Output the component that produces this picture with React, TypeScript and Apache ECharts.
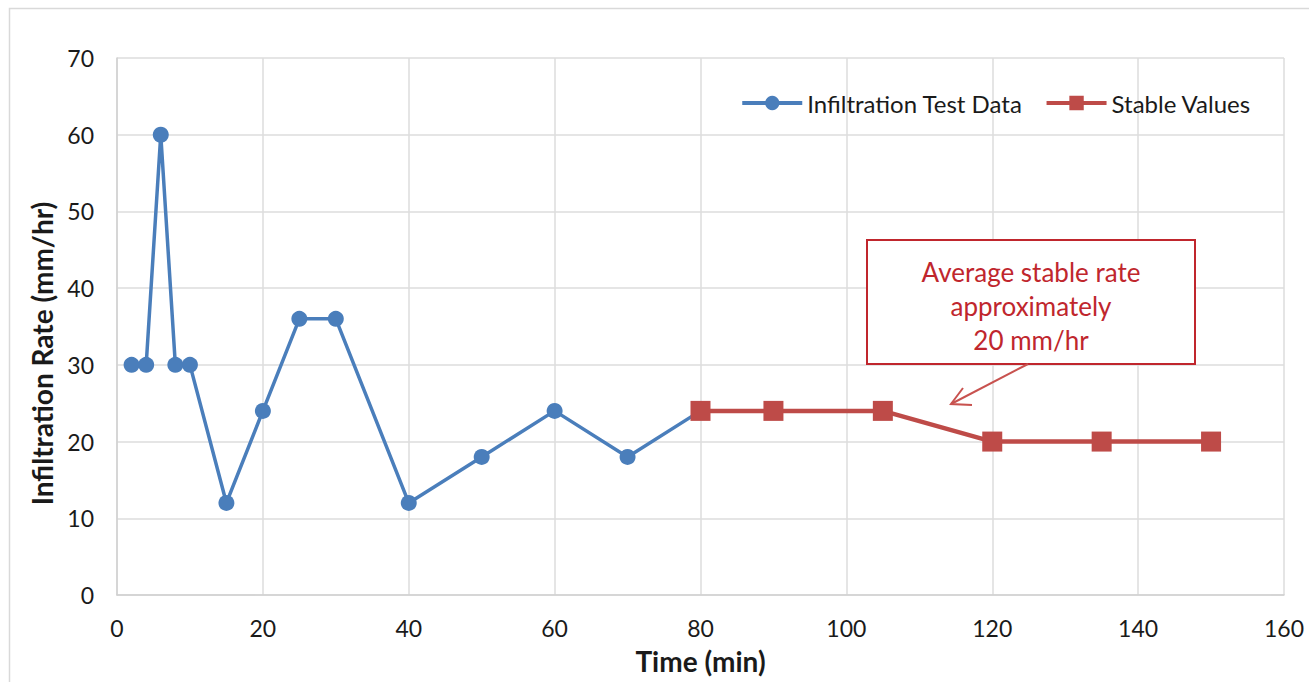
import React, { useEffect, useRef } from "react";
import * as echarts from "echarts";

const testTimes = [2, 4, 6, 8, 10, 15, 20, 25, 30, 40, 50, 60, 70, 80];
const testRates = [30, 30, 60, 30, 30, 12, 24, 36, 36, 12, 18, 24, 18, 24];
const stableTimes = [80, 90, 105, 120, 135, 150];
const stableRates = [24, 24, 24, 20, 20, 20];
const annotationLines = ["Average stable rate", "approximately", "20 mm/hr"];

const FONT = "Lato, 'Open Sans', sans-serif";
const TEXT = "#1a1a1a";

export default function App() {
  const ref = useRef<HTMLDivElement>(null);
  useEffect(() => {
    if (!ref.current) return;
    const chart = echarts.init(ref.current, null, { renderer: "svg" });
    chart.setOption({
      animation: false,
      backgroundColor: "#ffffff",
      textStyle: { fontFamily: FONT },
      grid: { left: 117, right: 25, top: 58, bottom: 87, containLabel: false },
      legend: {
        top: 86,
        right: 53,
        itemWidth: 60,
        itemHeight: 18,
        itemGap: 22,
        lineStyle: { width: 4 },
        textStyle: { fontSize: 24, color: TEXT, fontFamily: FONT },
        data: ["Infiltration Test Data", "Stable Values"],
      },
      xAxis: {
        type: "value",
        min: 0,
        max: 160,
        interval: 20,
        name: "Time (min)",
        nameLocation: "middle",
        nameGap: 52,
        nameTextStyle: { fontSize: 28, fontWeight: "bold", color: TEXT, fontFamily: FONT },
        axisLine: { show: true, lineStyle: { color: "#d0d0d0", width: 1.5 } },
        axisTick: { show: false },
        axisLabel: { fontSize: 23, color: TEXT, margin: 21, fontFamily: FONT },
        splitLine: { show: true, lineStyle: { color: "#dcdcdc", width: 1.5 } },
      },
      yAxis: {
        type: "value",
        min: 0,
        max: 70,
        interval: 10,
        name: "Infiltration Rate (mm/hr)",
        nameLocation: "middle",
        nameGap: 58,
        nameRotate: 90,
        nameTextStyle: {
          fontSize: 28,
          fontWeight: "bold",
          color: TEXT,
          fontFamily: FONT,
          padding: [0, 54, 0, 0],
        },
        axisLine: { show: true, lineStyle: { color: "#d0d0d0", width: 1.5 } },
        axisTick: { show: false },
        axisLabel: { fontSize: 23, color: TEXT, margin: 23, fontFamily: FONT },
        splitLine: { show: true, lineStyle: { color: "#dcdcdc", width: 1.5 } },
      },
      series: [
        {
          name: "Infiltration Test Data",
          type: "line",
          data: testTimes.map((t, i) => [t, testRates[i]]),
          symbol: "circle",
          symbolSize: 16,
          lineStyle: { color: "#4a7ebb", width: 3.5 },
          itemStyle: { color: "#4a7ebb" },
          z: 2,
        },
        {
          name: "Stable Values",
          type: "line",
          data: stableTimes.map((t, i) => [t, stableRates[i]]),
          symbol: "rect",
          symbolSize: 20,
          lineStyle: { color: "#be4b48", width: 4.5 },
          itemStyle: { color: "#be4b48" },
          z: 3,
        },
      ],
      graphic: [
        {
          type: "rect",
          left: 7,
          top: 6,
          shape: { width: 1320, height: 700 },
          style: { fill: "none", stroke: "#d9d9d9", lineWidth: 1.5 },
          silent: true,
          z: -1,
        },
        {
          type: "rect",
          shape: { x: 867, y: 240, width: 328, height: 124 },
          style: { fill: "#ffffff", stroke: "#c0262d", lineWidth: 2 },
          z: 10,
        },
        ...annotationLines.map((line, i) => ({
          type: "text",
          x: 1031,
          y: 272 + i * 34,
          style: {
            text: line,
            fill: "#c0262d",
            fontSize: 26,
            fontFamily: FONT,
            align: "center",
            verticalAlign: "middle",
          },
          z: 11,
        })),
        {
          type: "line",
          shape: { x1: 1028, y1: 364, x2: 951, y2: 404 },
          style: { stroke: "#c8524f", lineWidth: 2 },
          z: 10,
        },
        {
          type: "polyline",
          shape: { points: [[972, 405], [951, 404], [963, 388]] },
          style: { stroke: "#c8524f", lineWidth: 2, fill: "none" },
          z: 10,
        },
      ],
    });
    return () => chart.dispose();
  }, []);
  return (
    <div
      ref={ref}
      style={{ position: "absolute", left: 0, top: 0, width: 1309, height: 682 }}
    />
  );
}
